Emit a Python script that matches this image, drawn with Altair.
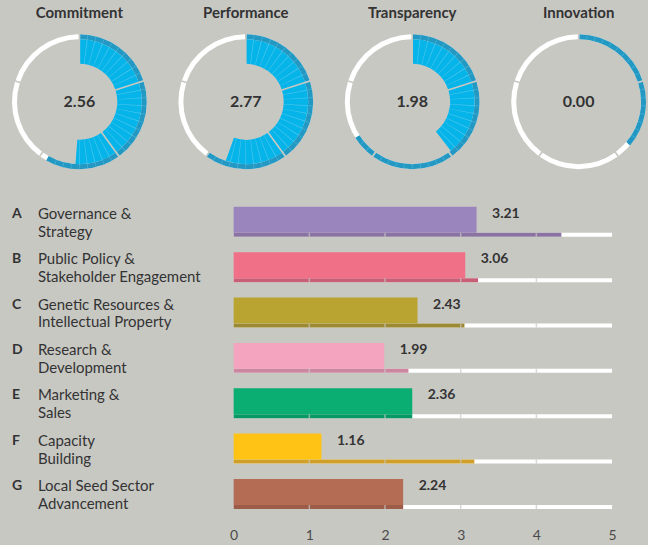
import math
import altair as alt
import pandas as pd

BG = "#c8c8c3"
FONT = "Lato"
TEXT = "#333333"
MAX_SCORE = 5

# ---------------- data ----------------
areas = ["Commitment", "Performance", "Transparency", "Innovation"]
area_scores = [2.56, 2.77, 1.98, 0.00]
area_outer = [2.92, 3.00, 3.31, 1.82]

letters = ["A", "B", "C", "D", "E", "F", "G"]
line1 = ["Governance &", "Public Policy &", "Genetic Resources &", "Research &",
         "Marketing &", "Capacity", "Local Seed Sector"]
line2 = ["Strategy", "Stakeholder Engagement", "Intellectual Property", "Development",
         "Sales", "Building", "Advancement"]
scores = [3.21, 3.06, 2.43, 1.99, 2.36, 1.16, 2.24]
thin_scores = [4.33, 3.23, 3.05, 2.31, 2.36, 3.18, 2.24]
main_colors = ["#9b85bd", "#f07087", "#b9a432", "#f5a4c0", "#0bae72", "#fec314", "#b46c55"]
thin_colors = ["#8a73a1", "#c95f76", "#9c8934", "#cd86a0", "#079866", "#cf9f2a", "#9c5c48"]
ticks = [0, 1, 2, 3, 4, 5]

# ---------------- styling ----------------
FILL_BLUE = "#05b4e8"
RING_BLUE = "#2298c2"
LINE_FILL = "#4ec5ee"
LINE_RING = "#45aed3"
R_OUT, R_MID, R_IN = 67.5, 62.5, 38
DX, DY = 5.5, 15.5
PANEL_W, PANEL_H = 148, 172
SLICE = 0.1
HALF_LINE = 0.005

theta_scale = alt.Scale(domain=[0, MAX_SCORE], range=[0, 2 * math.pi])


def segs(limit):
    rows = []
    for k in ticks[:-1]:
        if limit > k:
            rows.append({"start": k, "end": min(k + 1, limit)})
    return pd.DataFrame(rows, columns=["start", "end"])


def texture(limit):
    rows = []
    for k in ticks[:-1]:
        for j in range(1, 10):
            b = k + j * SLICE
            if b < limit - 0.02:
                rows.append({"start": b - HALF_LINE, "end": b + HALF_LINE})
    return pd.DataFrame(rows, columns=["start", "end"])


def arc_layer(df, color, r_out, r_in, pad):
    return alt.Chart(df).mark_arc(
        radius=r_out, radius2=r_in, padAngle=pad, color=color,
        xOffset=DX, yOffset=DY, strokeWidth=0
    ).encode(
        theta=alt.Theta("start:Q", scale=theta_scale, stack=False),
        theta2="end:Q",
    )


def donut(i):
    name, s, o = areas[i], area_scores[i], area_outer[i]
    layers = [
        arc_layer(segs(MAX_SCORE), "#ffffff", R_OUT, R_MID, 0.018),
        arc_layer(segs(o), RING_BLUE, R_OUT, R_MID, 0.018),
    ]
    if s > 0:
        layers.append(arc_layer(segs(s), FILL_BLUE, R_MID, R_IN, 0.022))
        layers.append(arc_layer(texture(s), LINE_FILL, R_MID, R_IN, 0))
    if o > 0:
        layers.append(arc_layer(texture(o), LINE_RING, R_OUT, R_MID, 0))
    info = pd.DataFrame({"area": [name], "score": [s]})
    layers.append(
        alt.Chart(info).mark_text(font=FONT, fontSize=15, fontWeight="bold",
                                  color=TEXT, dx=DX, dy=-73, baseline="middle")
        .encode(text="area:N")
    )
    layers.append(
        alt.Chart(info).mark_text(font=FONT, fontSize=16, fontWeight="bold",
                                  color=TEXT, dx=DX, dy=DY, baseline="middle")
        .encode(text=alt.Text("score:Q", format=".2f"))
    )
    return alt.layer(*layers).properties(width=PANEL_W, height=PANEL_H)


top = alt.hconcat(*[donut(i) for i in range(len(areas))], spacing=18.67, bounds="flush")

# ---------------- bars ----------------
bars_df = pd.DataFrame({"cat": letters, "score": scores, "thin": thin_scores,
                        "l1": line1, "l2": line2})
sep_df = pd.DataFrame([{"cat": c, "pos": t} for c in letters for t in ticks[1:-1]])

BAR_W, BAR_H = 379, 318
y_enc = alt.Y("cat:N", scale=alt.Scale(domain=letters, paddingInner=0.338, paddingOuter=0.169),
              axis=None)
xs = alt.Scale(domain=[0, MAX_SCORE], nice=False, zero=True)
x_axis = alt.Axis(values=ticks, format="d", labelFont=FONT, labelFontSize=14,
                  labelColor="#4a4a4a", domain=False, ticks=False, grid=False,
                  labelFlush=False, labelPadding=12, title=None)

base = alt.Chart(bars_df)
white_bar = base.mark_bar(color="#ffffff", size=4, yOffset=13).encode(
    x=alt.XDatum(MAX_SCORE, type="quantitative", scale=xs, axis=x_axis), y=y_enc)
thin_bar = base.mark_bar(size=4, yOffset=13).encode(
    x=alt.X("thin:Q", scale=xs, axis=x_axis),
    y=y_enc,
    color=alt.Color("cat:N", scale=alt.Scale(domain=letters, range=thin_colors), legend=None),
)
seps = alt.Chart(sep_df).mark_tick(color=BG, thickness=1.5, size=4, yOffset=13).encode(
    x=alt.X("pos:Q", scale=xs, axis=x_axis), y=y_enc)
main_bar = base.mark_bar(size=26, yOffset=-2).encode(
    x=alt.X("score:Q", scale=xs, axis=x_axis),
    y=y_enc,
    fill=alt.Fill("cat:N", scale=alt.Scale(domain=letters, range=main_colors), legend=None),
)
values = base.mark_text(align="left", baseline="middle", dx=15.5, dy=-8,
                        font=FONT, fontSize=14, fontWeight="bold", color=TEXT).encode(
    x=alt.X("score:Q", scale=xs, axis=x_axis), y=y_enc,
    text=alt.Text("score:Q", format=".2f"))

bars = alt.layer(white_bar, thin_bar, seps, main_bar, values).resolve_scale(
    color="independent", fill="independent").properties(width=BAR_W, height=BAR_H)

lab_base = alt.Chart(bars_df)
letter_txt = lab_base.mark_text(align="left", baseline="middle", dy=-8, font=FONT,
                                fontSize=14, fontWeight="bold", color=TEXT).encode(
    x=alt.value(12), y=y_enc, text="cat:N")
l1_txt = lab_base.mark_text(align="left", baseline="middle", dy=-8, font=FONT,
                            fontSize=15, color=TEXT).encode(
    x=alt.value(38), y=y_enc, text="l1:N")
l2_txt = lab_base.mark_text(align="left", baseline="middle", dy=10, font=FONT,
                            fontSize=15, color=TEXT).encode(
    x=alt.value(38), y=y_enc, text="l2:N")
labels = alt.layer(letter_txt, l1_txt, l2_txt).properties(width=224, height=BAR_H)

bottom = alt.hconcat(labels, bars, spacing=10, bounds="flush")

chart = alt.vconcat(top, bottom, spacing=27).properties(
    background=BG, padding={"left": 0, "top": 0, "right": 0, "bottom": 4}
).configure_view(stroke=None)

chart.save("out.html", embed_options={"renderer": "svg", "actions": False})
